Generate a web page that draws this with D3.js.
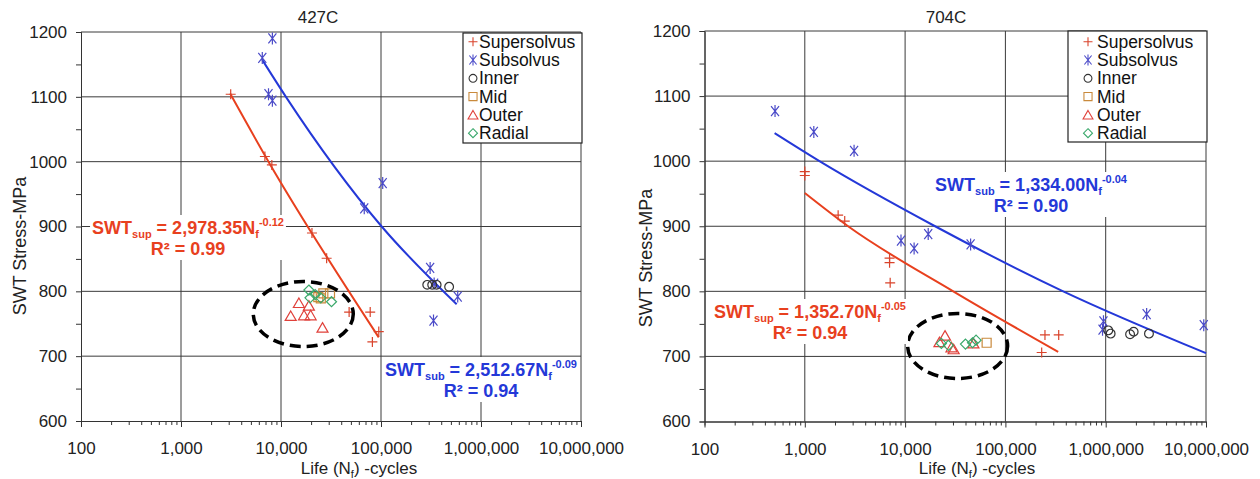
<!DOCTYPE html>
<html>
<head>
<meta charset="utf-8">
<script src="https://cdn.jsdelivr.net/npm/d3@7"></script>
<style>
  body { margin: 0; background: #fff; }
  svg { font-family: "Liberation Sans", Arial, sans-serif; }
  .grid { stroke: #3a3a3a; stroke-width: 1; }
  .axis path, .axis line { stroke: #333; }
  .axis text { font-size: 17px; fill: #222; }
  .fit { fill: none; stroke-width: 2; }
  .eq { font-size: 18px; font-weight: bold; }
  .label { font-size: 17px; fill: #222; }
  .legend text { font-size: 17.5px; fill: #111; }
</style>
</head>
<body>
<svg id="chart" width="1260" height="479"></svg>
<script>
var xTicks = [100, 1000, 10000, 100000, 1000000, 10000000];
var yTicks = [600, 700, 800, 900, 1000, 1100, 1200];
var yMinor = [650, 750, 850, 950, 1050, 1150];
var seriesNames = ["Supersolvus", "Subsolvus", "Inner", "Mid", "Outer", "Radial"];

// 427C  [cycles, MPa]
var sup427 = [[3140, 1104], [6900, 1008], [8100, 995], [20400, 890], [28600, 851],
              [48000, 768], [78000, 768], [95000, 738], [82000, 722]];
var sub427 = [[8200, 1190], [6500, 1160], [7500, 1104], [8200, 1094], [104000, 967],
              [68000, 928], [310000, 836], [340000, 812], [585000, 792], [335000, 755]];
var inner427 = [[290000, 810], [325000, 810], [360000, 810], [480000, 807]];
var mid427 = [[23600, 791], [26500, 797], [30900, 797], [25000, 789]];
var outer427 = [[12500, 762], [15100, 782], [17000, 763], [19800, 763], [19000, 778], [26000, 744]];
var radial427 = [[19000, 802], [19500, 790], [22000, 795], [25000, 790], [32000, 784]];
var supFit427 = [[3100, 1105], [7500, 1000], [95000, 729]];
var subFit427 = [[6500, 1157], [11200, 1100], [101600, 900], [571000, 780]];
var ring427 = [16700, 765];
var supEq427 = ["2,978.35", "-0.12", "0.99"];
var subEq427 = ["2,512.67", "-0.09", "0.94"];

// 704C
var sup704 = [[1000, 984], [1000, 978], [2150, 917], [2500, 908], [7000, 851], [7000, 844],
              [7100, 813], [248000, 733], [340000, 733], [230000, 706]];
var sub704 = [[505, 1077], [1230, 1045], [3100, 1016], [9100, 878], [12300, 866], [17000, 888],
              [45000, 872], [950000, 754], [930000, 741], [2560000, 765], [9500000, 748]];
var inner704 = [[1060000, 740], [1120000, 735], [1750000, 734], [1900000, 738], [2700000, 735]];
var mid704 = [[65000, 721]];
var outer704 = [[22000, 722], [25000, 732], [29000, 714], [30500, 711], [48000, 720]];
var radial704 = [[23000, 720], [27000, 717], [40000, 719], [47000, 721], [51000, 725]];
var supFit704 = [[1000, 951], [2700, 900], [30200, 800], [336000, 707]];
var subFit704 = [[500, 1043], [1400, 1000], [19900, 900], [377000, 800], [10000000, 705]];
var ring704 = [33400, 716];
var supEq704 = ["1,352.70", "-0.05", "0.94"];
var subEq704 = ["1,334.00", "-0.04", "0.90"];

var red = "#e8401e", blue = "#2438d8";
var markers = [
  {path: "M-5,0H5M0,-5V5", color: "#d9432b"},
  {path: "M-4,-5L4,5M-4,5L4,-5M0,-6V6", color: "#4a4ac8"},
  {path: d3.symbol(d3.symbolCircle, 60)(), color: "#333"},
  {path: "M-4.5,-4.5h9v9h-9z", color: "#c98a3c"},
  {path: "M0,-5L5.5,4.5H-5.5Z", color: "#e0403a"},
  {path: "M0,-5L5,0L0,5L-5,0Z", color: "#3aa86b"}
];

var charts = [
  {title: "427C", x0: 81, x1: 581, yTop: 32, yBottom: 421, titleX: 318,
   series: [sup427, sub427, inner427, mid427, outer427, radial427],
   supFit: supFit427, subFit: subFit427, ring: ring427,
   supEq: supEq427, subEq: subEq427, supEqX: 188, supEqY: 234, subEqX: 481, subEqY: 376,
   legX: 463, legY: 33, legW: 119, legH: 110, legMx: 10, legTx: 16,
   yTitleX: 26, yTitleY: 246, xTitleX: 359},
  {title: "704C", x0: 704.5, x1: 1206, yTop: 31, yBottom: 421.5, titleX: 946,
   series: [sup704, sub704, inner704, mid704, outer704, radial704],
   supFit: supFit704, subFit: subFit704, ring: ring704,
   supEq: supEq704, subEq: subEq704, supEqX: 810, supEqY: 318, subEqX: 1031, subEqY: 191,
   legX: 1068, legY: 31, legW: 139, legH: 111, legMx: 20, legTx: 29,
   yTitleX: 652, yTitleY: 258, xTitleX: 977}
];

var svg = d3.select("#chart");

function addEquation(g, label, nums, cx, cy, color) {
  var box = g.append("rect").attr("fill", "#fff");
  var t = g.append("text").attr("class", "eq").attr("fill", color)
      .attr("x", cx).attr("y", cy).style("text-anchor", "middle");
  t.append("tspan").text("SWT");
  t.append("tspan").attr("font-size", 11).attr("dy", 4).text(label);
  t.append("tspan").attr("dy", -4).text(" = " + nums[0] + "N");
  t.append("tspan").attr("font-size", 11).attr("dy", 4).text("f");
  t.append("tspan").attr("font-size", 11).attr("dy", -12).text(nums[1]);
  var r = g.append("text").attr("class", "eq").attr("fill", color)
      .attr("x", cx).attr("y", cy + 21).style("text-anchor", "middle")
      .text("R\u00b2 = " + nums[2]);
  var b1 = t.node().getBBox(), b2 = r.node().getBBox();
  var left = Math.min(b1.x, b2.x), right = Math.max(b1.x + b1.width, b2.x + b2.width);
  box.attr("x", left - 2).attr("y", b1.y - 1)
     .attr("width", right - left + 4).attr("height", b2.y + b2.height - b1.y + 2);
}

function drawChart(c) {
  var x = d3.scaleLog().domain([xTicks[0], xTicks[xTicks.length - 1]]).range([c.x0, c.x1]);
  var y = d3.scaleLinear().domain([yTicks[0], yTicks[yTicks.length - 1]]).range([c.yBottom, c.yTop]);
  var g = svg.append("g");

  // gridlines
  g.append("g").selectAll("line").data(xTicks.slice(1)).enter().append("line")
      .attr("class", "grid")
      .attr("x1", function(d) { return x(d); }).attr("x2", function(d) { return x(d); })
      .attr("y1", c.yTop).attr("y2", c.yBottom);
  g.append("g").selectAll("line").data(yTicks.slice(1)).enter().append("line")
      .attr("class", "grid")
      .attr("x1", c.x0).attr("x2", c.x1)
      .attr("y1", function(d) { return y(d); }).attr("y2", function(d) { return y(d); });

  // axes
  var minorX = x.ticks().filter(function(d) { return xTicks.indexOf(d) < 0; });
  g.append("g").attr("class", "axis")
      .attr("transform", "translate(0," + c.yBottom + ")")
      .call(d3.axisBottom(x).tickValues(minorX).tickSize(4).tickFormat(""));
  g.append("g").attr("class", "axis")
      .attr("transform", "translate(0," + c.yBottom + ")")
      .call(d3.axisBottom(x).tickValues(xTicks).tickSize(6).tickSizeOuter(0)
            .tickPadding(15).tickFormat(d3.format(",")));
  g.append("g").attr("class", "axis")
      .attr("transform", "translate(" + c.x0 + ",0)")
      .call(d3.axisLeft(y).tickValues(yMinor).tickSize(5).tickFormat(""));
  g.append("g").attr("class", "axis")
      .attr("transform", "translate(" + c.x0 + ",0)")
      .call(d3.axisLeft(y).tickValues(yTicks).tickSize(5).tickSizeOuter(0)
            .tickPadding(9).tickFormat(d3.format("d")));

  // fitted lines
  var line = d3.line()
      .curve(d3.curveMonotoneX)
      .x(function(d) { return x(d[0]); })
      .y(function(d) { return y(d[1]); });
  g.append("path").datum(c.subFit).attr("class", "fit").attr("stroke", blue).attr("d", line);
  g.append("path").datum(c.supFit).attr("class", "fit").attr("stroke", red).attr("d", line);

  // points
  c.series.forEach(function(s, i) {
    var m = markers[i];
    g.append("g").selectAll("path").data(s).enter().append("path")
        .attr("d", m.path)
        .attr("transform", function(d) { return "translate(" + x(d[0]) + "," + y(d[1]) + ")"; })
        .attr("fill", "none").attr("stroke", m.color).attr("stroke-width", 1.2);
  });

  // dashed ring
  g.append("ellipse")
      .attr("cx", x(c.ring[0])).attr("cy", y(c.ring[1]))
      .attr("rx", 50).attr("ry", 32.5)
      .attr("fill", "none").attr("stroke", "#000")
      .attr("stroke-width", 3.5).attr("stroke-dasharray", "11,6");

  // equations
  addEquation(g, "sup", c.supEq, c.supEqX, c.supEqY, red);
  addEquation(g, "sub", c.subEq, c.subEqX, c.subEqY, blue);

  // titles
  g.append("text").attr("class", "label").attr("x", c.titleX).attr("y", 23)
      .style("text-anchor", "middle").text(c.title);
  g.append("text").attr("class", "label")
      .attr("transform", "translate(" + c.yTitleX + "," + c.yTitleY + ") rotate(-90)")
      .style("text-anchor", "middle").style("font-size", "18px")
      .text("SWT Stress-MPa");
  var xt = g.append("text").attr("class", "label").attr("x", c.xTitleX).attr("y", 474)
      .style("text-anchor", "middle");
  xt.append("tspan").text("Life (N");
  xt.append("tspan").attr("font-size", 11).attr("dy", 4).text("f");
  xt.append("tspan").attr("dy", -4).text(") -cycles");

  // legend
  var leg = g.append("g").attr("class", "legend");
  leg.append("rect").attr("x", c.legX).attr("y", c.legY)
      .attr("width", c.legW).attr("height", c.legH)
      .attr("fill", "#fff").attr("stroke", "#222").attr("stroke-width", 1.2);
  var rows = leg.selectAll("g.row").data(seriesNames).enter().append("g")
      .attr("class", "row")
      .attr("transform", function(d, i) { return "translate(" + c.legX + "," + (41.7 + i * 18.3) + ")"; });
  rows.append("path")
      .attr("d", function(d, i) { return markers[i].path; })
      .attr("transform", "translate(" + c.legMx + ",0) scale(0.9)")
      .attr("fill", "none")
      .attr("stroke", function(d, i) { return markers[i].color; })
      .attr("stroke-width", 1.2);
  rows.append("text").attr("x", c.legTx).attr("y", 6).text(function(d) { return d; });
}

charts.forEach(drawChart);
</script>
</body>
</html>
